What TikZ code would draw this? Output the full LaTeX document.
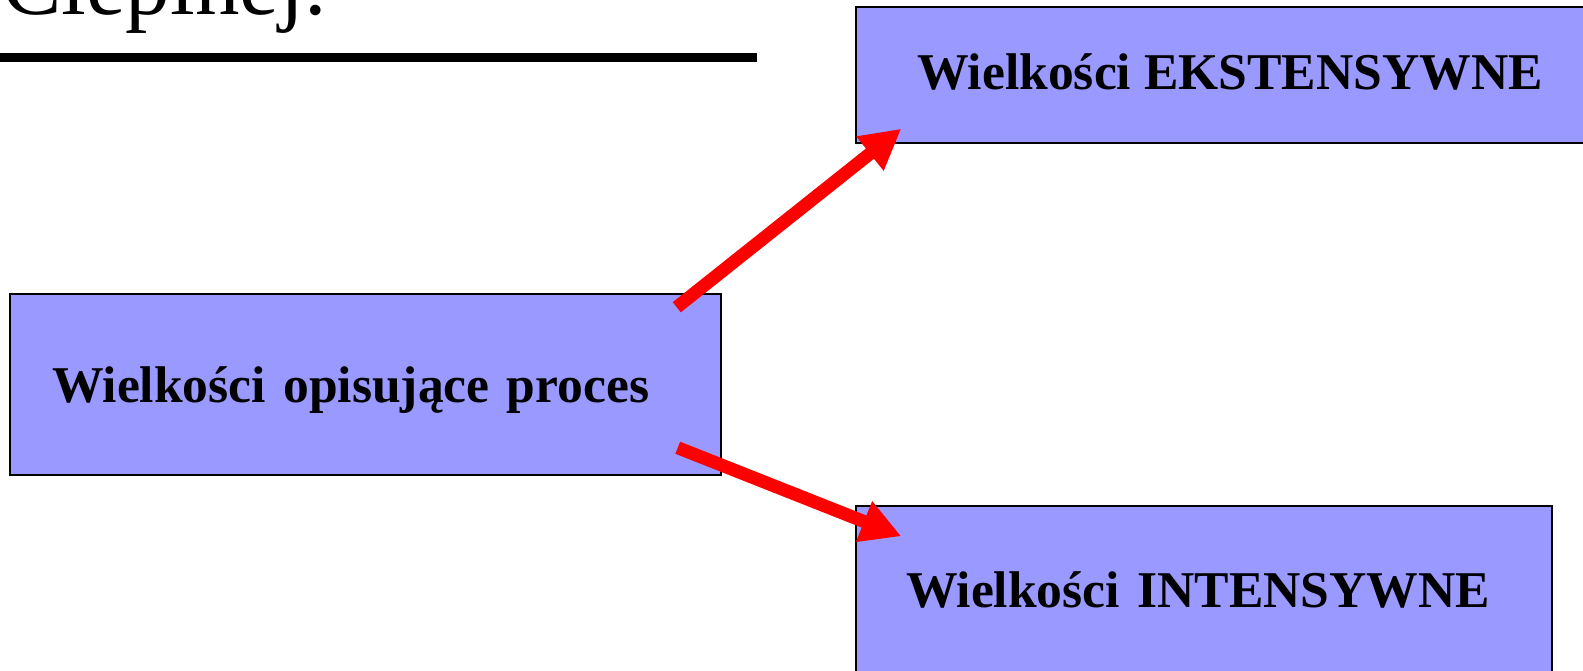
\documentclass[tikz,border=0pt]{standalone}
\usepackage{fontspec}
\setmainfont{Liberation Serif}
\usetikzlibrary{positioning,arrows.meta,calc}
\definecolor{lila}{RGB}{153,153,255}

\begin{document}
\begin{tikzpicture}[x=1pt, y=-1pt,
  wielk/.style={draw, line width=1.5pt, fill=lila, rectangle, inner sep=0pt,
    text height=35pt, text depth=0pt,
    font=\fontsize{51.6}{60}\selectfont\bfseries},
  strzalka/.style={-{Triangle[length=40pt, width=41pt]}, red, line width=13pt},
  tytul/.style={font=\fontsize{89}{100}\selectfont, inner sep=0pt}]
\useasboundingbox (0,0) rectangle (1583,671);
% Tytul slajdu (obciety u gory) i kreska pod nim
\node[tytul, anchor=base west] (tytul) at (2,15) {Cieplnej:};
\draw[line width=9pt] (0,58) -- (757,58);
% Trzy prostokaty
\node[wielk, minimum width=711pt, minimum height=181pt,
  text width=627pt, align=left] (proces) at (365.5,384.5)
  {Wielkości opisujące proces};
\node[wielk, minimum width=748pt, minimum height=136pt, text depth=6pt]
  (ekst) at (1230,75) {Wielkości EKSTENSYWNE};
\node[wielk, minimum width=696pt, minimum height=167pt,
  text width=596pt, align=left] (intens) at (1204,589.5)
  {Wielkości INTENSYWNE};
% Strzalki
\coordinate (ogon1) at ($(proces.north east)+(-45,14)$);
\coordinate (grot1) at ($(ekst.south west)+(46,-15)$);
\coordinate (ogon2) at ($(proces.south east)+(-44,-28)$);
\coordinate (grot2) at ($(intens.north west)+(46,31)$);
\draw[strzalka] (ogon1) -- (grot1);
\draw[strzalka] (ogon2) -- (grot2);
\end{tikzpicture}
\end{document}
